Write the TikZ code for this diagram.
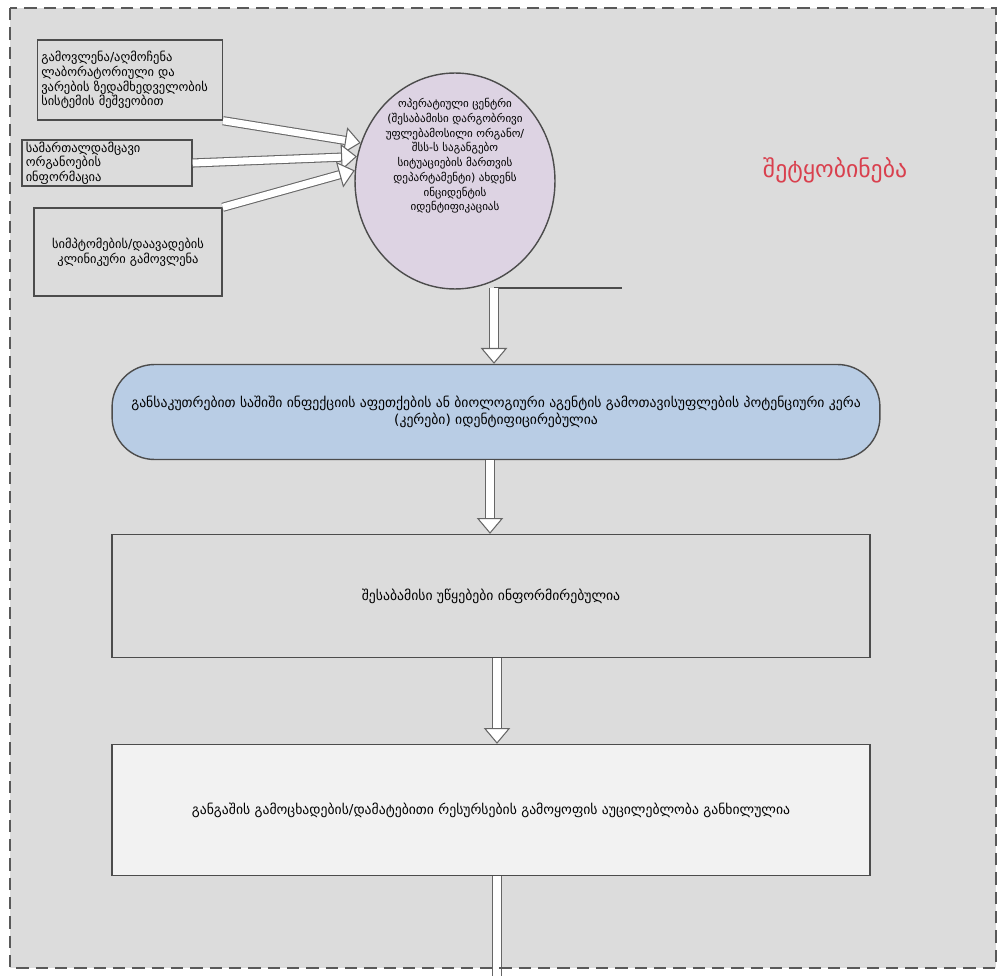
\documentclass[tikz,border=0pt]{standalone}
\usepackage{fontspec}
\newfontfamily\geo[Script=Georgian]{DejaVu Sans}
\usetikzlibrary{arrows.meta,shapes.geometric}
\definecolor{pagegray}{HTML}{DCDCDC}
\definecolor{opsfill}{HTML}{DDD3E3}
\definecolor{riskfill}{HTML}{B9CDE5}
\definecolor{alarmfill}{HTML}{F2F2F2}
\definecolor{notered}{HTML}{D9404E}
\tikzset{
  src/.style={draw=black!70, line width=0.8pt, fill=pagegray, font=\geo\fontsize{7.1}{8.3}\selectfont, inner sep=2pt},
  stage/.style={draw=black!70, line width=0.8pt, font=\geo\fontsize{7.8}{9.4}\selectfont, align=center},
  hollow/.style={draw=black!60, double=white, double distance=4pt, line width=0.6pt, -{Triangle[open, length=9pt, width=15pt, fill=white]}}
}
\begin{document}
\begin{tikzpicture}[x=0.02cm, y=-0.02cm]
\fill[white] (0,0) rectangle (1003,976);
\useasboundingbox (0,0) rectangle (1003,976);
\fill[pagegray] (10,8) rectangle (996,968);
% sources
\node (lab) [src, minimum width=3.68cm, minimum height=1.6cm, text width=3.55cm, align=left] at (130,80) {გამოვლენა/აღმოჩენა\\ლაბორატორიული და\\ვარების ზედამხედველობის\\სისტემის მეშვეობით};
\node (law) [src, minimum width=3.4cm, minimum height=0.92cm, text width=3.25cm, align=left, inner sep=1pt] at (107,163) {სამართალდამცავი\\ორგანოების\\ინფორმაცია};
\node (clin) [src, minimum width=3.76cm, minimum height=1.76cm, align=center] at (128,252) {სიმპტომების/დაავადების\\კლინიკური გამოვლენა};
% operative centre
\node (ops) [stage, ellipse, fill=opsfill, minimum width=4cm, minimum height=4.32cm, inner sep=0pt,
  label={[align=center, yshift=0.5cm, font=\geo\fontsize{6.3}{8.4}\selectfont]center:ოპერატიული ცენტრი\\(შესაბამისი დარგობრივი\\უფლებამოსილი ორგანო/\\შსს-ს საგანგებო\\სიტუაციების მართვის\\დეპარტამენტი) ახდენს\\ინციდენტის\\იდენტიფიკაციას}] at (455,181) {};
\coordinate (opsfoot) at (494,288);
\coordinate (rule) at (622,288);
\node (note) [text=notered, font=\geo\fontsize{13.5}{16}\selectfont] at (835,170) {შეტყობინება};
% stages
\node (risk) [stage, fill=riskfill, rounded corners=0.85cm, minimum width=15.36cm, minimum height=1.9cm] at (496,412) {განსაკუთრებით საშიში ინფექციის აფეთქების ან ბიოლოგიური აგენტის გამოთავისუფლების პოტენციური კერა\\(კერები) იდენტიფიცირებულია};
\node (inf) [stage, fill=pagegray, minimum width=15.16cm, minimum height=2.46cm] at (491,596) {შესაბამისი უწყებები ინფორმირებულია};
\node (alarm) [stage, fill=alarmfill, minimum width=15.16cm, minimum height=2.62cm] at (491,810) {განგაშის გამოცხადების/დამატებითი რესურსების გამოყოფის აუცილებლობა განხილულია};
\coordinate (out) at (497,976);
% connectors
\draw[hollow] (lab.south east) -- (ops.158);
\draw[hollow] (law.east) -- (ops.166);
\draw[hollow] (clin.north east) -- (ops.174);
\draw[black!70, line width=0.8pt] (opsfoot) -- (rule);
\draw[hollow] (opsfoot) -- (opsfoot |- risk.north);
\draw[hollow] (risk.south -| 490,0) -- (inf.north -| 490,0);
\draw[hollow] (inf.south -| out) -- (alarm.north -| out);
\draw[draw=black!60, double=white, double distance=4pt, line width=0.6pt] (alarm.south -| out) -- (out);
\draw[dash pattern=on 7pt off 4pt, line width=1.3pt, black!65] (10,8) rectangle (996,968);
\end{tikzpicture}
\end{document}
